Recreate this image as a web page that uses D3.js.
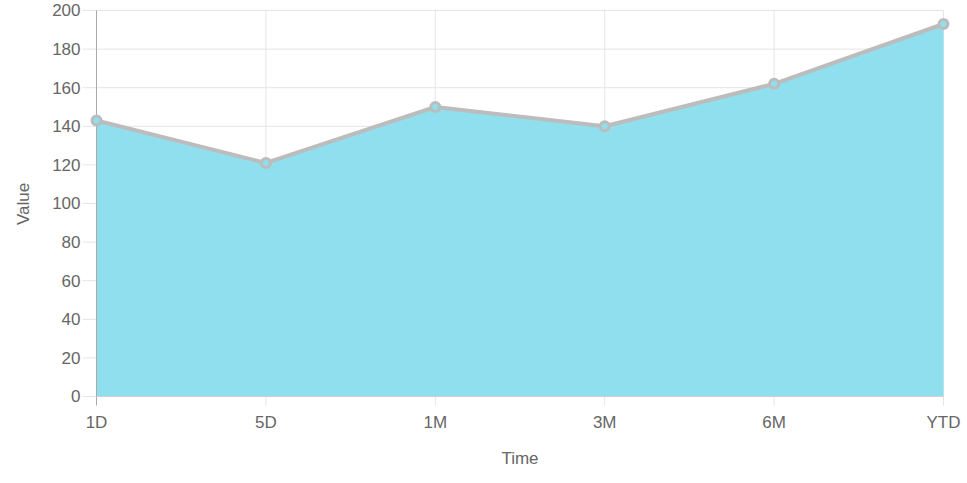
<!DOCTYPE html>
<html><head><meta charset="utf-8">
<script src="https://cdn.jsdelivr.net/npm/d3@7"></script>
<style>body{margin:0;background:#fff}svg text{font-family:"Liberation Sans",Arial,Helvetica,sans-serif}</style>
</head><body>
<svg id="c" width="967" height="483"></svg>
<script>
const categories = ["1D","5D","1M","3M","6M","YTD"];
const values = [143,121,150,140,162,193];
const yTicks = [0,20,40,60,80,100,120,140,160,180,200];

const svg = d3.select("#c");
const m = {l:96.5, r:943.5, t:10.5, b:396.5};
const x = d3.scalePoint().domain(categories).range([m.l, m.r]);
const y = d3.scaleLinear().domain([0,200]).range([m.b, m.t]);

// horizontal grid + ticks
svg.append("g").selectAll("line").data(yTicks).join("line")
  .attr("x1", m.l-14).attr("x2", m.r).attr("y1", d=>y(d)).attr("y2", d=>y(d))
  .attr("stroke","#e5e5e5").attr("stroke-width",1);
// vertical grid + ticks
svg.append("g").selectAll("line").data(categories).join("line")
  .attr("x1", d=>x(d)).attr("x2", d=>x(d)).attr("y1", m.t).attr("y2", m.b+9)
  .attr("stroke","#e5e5e5").attr("stroke-width",1);

// area
const area = d3.area().x((d,i)=>x(categories[i])).y0(m.b).y1(d=>y(d));
svg.append("path").datum(values).attr("d", area).attr("fill","#8fdfee");

// axis lines
svg.append("line").attr("x1",m.l).attr("x2",m.l).attr("y1",m.t).attr("y2",m.b+9).attr("stroke","#aaaaaa");
svg.append("line").attr("x1",m.l).attr("x2",m.r).attr("y1",m.b).attr("y2",m.b).attr("stroke","#d0d0d0");

// line
const line = d3.line().x((d,i)=>x(categories[i])).y(d=>y(d));
svg.append("path").datum(values).attr("d", line).attr("fill","none")
  .attr("stroke","#bcbcbc").attr("stroke-width",4).attr("stroke-linejoin","round");
svg.append("g").selectAll("circle").data(values).join("circle")
  .attr("cx",(d,i)=>x(categories[i])).attr("cy",d=>y(d)).attr("r",4.5)
  .attr("fill","#8fdfee").attr("stroke","#bcbcbc").attr("stroke-width",3);

// tick labels
svg.append("g").selectAll("text").data(yTicks).join("text")
  .attr("x", m.l-16).attr("y", d=>y(d)).attr("dy","0.35em").attr("text-anchor","end")
  .attr("font-size",17).attr("fill","#666").text(d=>d);
svg.append("g").selectAll("text").data(categories).join("text")
  .attr("x", d=>x(d)).attr("y", m.b+31).attr("text-anchor","middle")
  .attr("font-size",17).attr("fill","#666").text(d=>d);

// axis titles
svg.append("text").attr("transform","translate(29,204) rotate(-90)").attr("text-anchor","middle")
  .attr("font-size",17).attr("fill","#666").text("Value");
svg.append("text").attr("x",520).attr("y",464).attr("text-anchor","middle")
  .attr("font-size",17).attr("fill","#666").text("Time");
</script>
</body></html>
